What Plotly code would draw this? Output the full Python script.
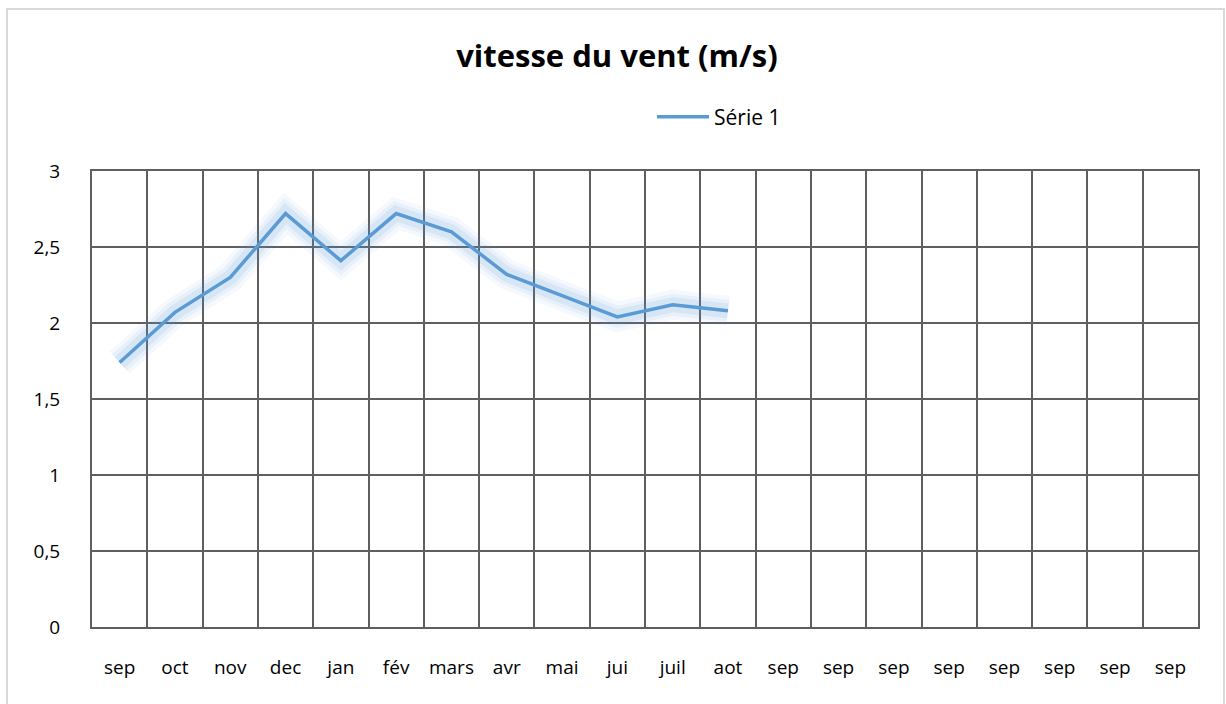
import plotly.graph_objects as go

categories = ["sep", "oct", "nov", "dec", "jan", "fév", "mars", "avr", "mai", "jui", "juil", "aot",
              "sep ", "sep  ", "sep   ", "sep    ", "sep     ", "sep      ", "sep       ", "sep        "]
tick_labels = ["sep", "oct", "nov", "dec", "jan", "fév", "mars", "avr", "mai", "jui", "juil", "aot",
               "sep", "sep", "sep", "sep", "sep", "sep", "sep", "sep"]
values = [1.74, 2.07, 2.30, 2.72, 2.41, 2.72, 2.60, 2.32, 2.18, 2.04, 2.12, 2.08]
y_ticks = [0, 0.5, 1, 1.5, 2, 2.5, 3]

LINE = "#5B9BD5"
FONT = "'Open Sans', sans-serif"
GRID = "#5f5f5f"

fig = go.Figure()
x_vals = categories[:len(values)]
# glow layers
for w, a in [(30, 0.06), (22, 0.08), (15, 0.12)]:
    fig.add_trace(go.Scatter(x=x_vals, y=values, mode="lines",
                             line=dict(color=f"rgba(91,155,213,{a})", width=w),
                             showlegend=False, hoverinfo="skip"))
fig.add_trace(go.Scatter(x=x_vals, y=values, mode="lines", name="Série 1",
                         line=dict(color=LINE, width=3.5)))

L, R, T, B = 92, 28, 171, 77
W, H = 1226, 704
pw, ph = W - L - R, H - T - B

fig.update_layout(
    width=W, height=H,
    margin=dict(l=L, r=R, t=T, b=B),
    paper_bgcolor="white", plot_bgcolor="white",
    separators=", ",
    title=dict(text="<b>vitesse du vent (m/s)</b>", x=(617 - L) / pw, xanchor="center",
               xref="paper",
               y=1 - 56 / H, yanchor="middle",
               font=dict(family=FONT, size=31, color="#000000")),
    legend=dict(orientation="h", x=(652 - L) / pw, xanchor="left",
                y=(627 - 117) / ph, yanchor="middle",
                font=dict(family=FONT, size=21, color="#000000"),
                itemwidth=52, bgcolor="rgba(0,0,0,0)"),
    font=dict(family=FONT, size=19, color="#000000"),
)

fig.update_xaxes(type="category", categoryorder="array", categoryarray=categories,
                 range=[-0.5, len(categories) - 0.5],
                 tickmode="array", tickvals=categories, ticktext=tick_labels,
                 tickson="boundaries", ticks="", showgrid=True, gridcolor=GRID, gridwidth=2,
                 showline=True, linecolor=GRID, linewidth=2, mirror=True,
                 ticklabelstandoff=22, tickfont=dict(family=FONT, size=19, color="#000000"),
                 zeroline=False)
fig.update_yaxes(range=[0, 3], tickmode="array", tickvals=y_ticks,
                 showgrid=True, gridcolor=GRID, gridwidth=2,
                 showline=True, linecolor=GRID, linewidth=2, mirror=True,
                 ticks="", ticklabelstandoff=26, zeroline=False,
                 tickfont=dict(family=FONT, size=19, color="#000000"))

# outer chart border
fig.add_shape(type="rect", xref="paper", yref="paper",
              x0=(7 - L) / pw, x1=(1224 - L) / pw,
              y0=(627 - 720) / ph, y1=(627 - 9) / ph,
              line=dict(color="#d9d9d9", width=2), fillcolor="rgba(0,0,0,0)", layer="below")

fig.write_html("out.html", config={"displayModeBar": False},
               post_script="document.body.style.margin='0';document.body.style.overflow='hidden';")
